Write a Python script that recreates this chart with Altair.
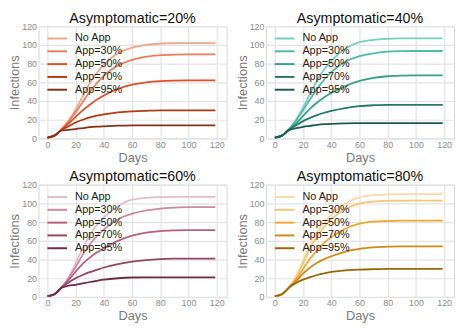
import altair as alt
import pandas as pd

days = [0, 5, 10, 15, 20, 25, 30, 35, 40, 50, 60, 70, 80, 90, 100, 119]
series_names = ["No App", "App=30%", "App=50%", "App=70%", "App=95%"]

# Asymptomatic = 20%
a20_noapp = [1, 3, 10, 19, 31, 45, 59, 70, 79, 91, 97, 100, 101.5, 102, 102, 102]
a20_app30 = [1, 3, 10, 18, 28, 39, 50, 59, 67, 78, 84, 87.5, 89, 89.7, 90, 90]
a20_app50 = [1, 3, 9.5, 16, 23, 30, 36, 41.5, 46, 53, 57.5, 60, 61.3, 61.8, 62, 62]
a20_app70 = [1, 3, 9, 13, 17, 20, 22.5, 24.3, 25.7, 27.8, 29, 29.6, 30, 30, 30, 30]
a20_app95 = [1, 3, 8.5, 9.2, 10, 11, 12, 12.6, 13, 13.6, 14, 14, 14, 14, 14, 14]

# Asymptomatic = 40%
a40_noapp = [1, 3, 10, 20, 33, 48, 62, 74, 83, 96, 103, 105.5, 106.5, 107, 107, 107]
a40_app30 = [1, 3, 10, 19, 30, 42, 53, 63, 71, 82, 88, 91, 92.8, 93.3, 93.5, 93.5]
a40_app50 = [1, 3, 9.5, 16, 24, 32, 38.5, 44, 48.5, 56, 61.5, 64.8, 66.5, 67.2, 67.5, 67.5]
a40_app70 = [1, 3, 9, 14, 18.5, 22, 25, 27.5, 29.5, 32.5, 34.5, 35.5, 36, 36, 36, 36]
a40_app95 = [1, 3, 9, 11, 12.5, 13.5, 14.5, 15.2, 15.7, 16.2, 16.4, 16.5, 16.5, 16.5, 16.5, 16.5]

# Asymptomatic = 60%
a60_noapp = [1, 3, 10, 21, 36, 52, 66, 77, 85, 97, 104, 106, 106.8, 107, 107, 107]
a60_app30 = [1, 3, 10, 20, 32, 45, 56, 65, 72, 83, 89, 92.5, 94.5, 95.5, 96, 96]
a60_app50 = [1, 3, 10, 18, 27, 35.5, 42, 47.5, 52, 60, 65.5, 68.8, 70.5, 71.2, 71.5, 71.5]
a60_app70 = [1, 3, 10, 15.5, 20, 23.5, 26.5, 29, 31.5, 35.2, 37.8, 39.5, 40.5, 41, 41, 41]
a60_app95 = [1, 3, 10, 12, 13, 14.5, 16, 17.3, 18.5, 20, 20.8, 21, 21, 21, 21, 21]

# Asymptomatic = 80%
a80_noapp = [1, 3, 10, 22, 39, 56, 70, 80, 88, 100, 106.5, 108.8, 109.6, 110, 110, 110]
a80_app30 = [1, 3, 10, 21, 36, 52, 65, 75, 83, 94, 100, 102, 102.7, 103, 103, 103]
a80_app50 = [1, 3, 10, 19, 30, 41, 50, 58, 64, 73, 78.5, 80.5, 81.2, 81.5, 81.5, 81.5]
a80_app70 = [1, 3, 10, 17, 25, 31.5, 36.5, 40.5, 43.5, 48.5, 51.5, 53, 53.7, 54, 54, 54]
a80_app95 = [1, 3, 10, 15, 18.5, 21.2, 23.5, 25.3, 26.7, 28.5, 29.3, 29.7, 30, 30, 30, 30]

colors20 = ["#f3a58c", "#ec7d5a", "#de5028", "#b33b12", "#84301a"]
colors40 = ["#73d1c0", "#4cbca6", "#36a08a", "#247a68", "#1b5c4e"]
colors60 = ["#e5bccb", "#cc8aa2", "#b5607f", "#944563", "#702b45"]
colors80 = ["#f9dba6", "#f6c775", "#f0a830", "#d08b16", "#9c6508"]

FONT = "Liberation Sans"


def make_df(series_list):
    rows = []
    for name, vals in zip(series_names, series_list):
        for d, v in zip(days, vals):
            rows.append({"Days": d, "Infections": v, "Series": name})
    return pd.DataFrame(rows)


def panel(title, series_list, colors):
    df = make_df(series_list)
    return alt.Chart(df).mark_line(strokeWidth=1.8, interpolate="monotone").encode(
        x=alt.X("Days:Q", scale=alt.Scale(domain=[-6.3, 127], nice=False),
                axis=alt.Axis(values=[0, 20, 40, 60, 80, 100, 120], title="Days")),
        y=alt.Y("Infections:Q", scale=alt.Scale(domain=[0, 120], nice=False),
                axis=alt.Axis(values=[0, 20, 40, 60, 80, 100, 120], title="Infections")),
        color=alt.Color("Series:N", sort=series_names,
                        scale=alt.Scale(domain=series_names, range=colors),
                        legend=alt.Legend(title=None, orient="top-left", offset=7,
                                          symbolType="M-1,0H4.7", symbolStrokeWidth=2,
                                          symbolSize=49, rowPadding=1, labelOffset=19,
                                          labelFontSize=11, labelFont=FONT,
                                          labelColor="#222222", padding=0)),
        order=alt.Order("Series:N"),
    ).properties(
        width=191, height=114,
        title=alt.TitleParams(title, fontSize=14.5, font=FONT, fontWeight="normal",
                              color="#111111", offset=-4),
    )


p1 = panel("Asymptomatic=20%", [a20_noapp, a20_app30, a20_app50, a20_app70, a20_app95], colors20)
p2 = panel("Asymptomatic=40%", [a40_noapp, a40_app30, a40_app50, a40_app70, a40_app95], colors40)
p3 = panel("Asymptomatic=60%", [a60_noapp, a60_app30, a60_app50, a60_app70, a60_app95], colors60)
p4 = panel("Asymptomatic=80%", [a80_noapp, a80_app30, a80_app50, a80_app70, a80_app95], colors80)

row1 = alt.hconcat(p1, p2, spacing=8).resolve_scale(color="independent").resolve_legend(color="independent")
row2 = alt.hconcat(p3, p4, spacing=8).resolve_scale(color="independent").resolve_legend(color="independent")

chart = alt.vconcat(
    row1, row2, spacing=4,
    padding={"left": 0, "top": 0, "right": 0, "bottom": 0},
).resolve_scale(color="independent").resolve_legend(
    color="independent"
).configure_axis(
    grid=True, gridColor="#e3e3e3", gridWidth=1.2, domain=False, ticks=False,
    labelColor="#8a8a8a", labelFontSize=9, labelFont=FONT, labelPadding=2,
    titleColor="#7a7a7a", titleFontSize=13, titleFont=FONT, titleFontWeight="normal",
    titlePadding=0,
).configure_axisX(titlePadding=2).configure_view(stroke="#d6d6d6", strokeWidth=1)

chart.save("out.html", embed_options={"renderer": "svg", "actions": False})
